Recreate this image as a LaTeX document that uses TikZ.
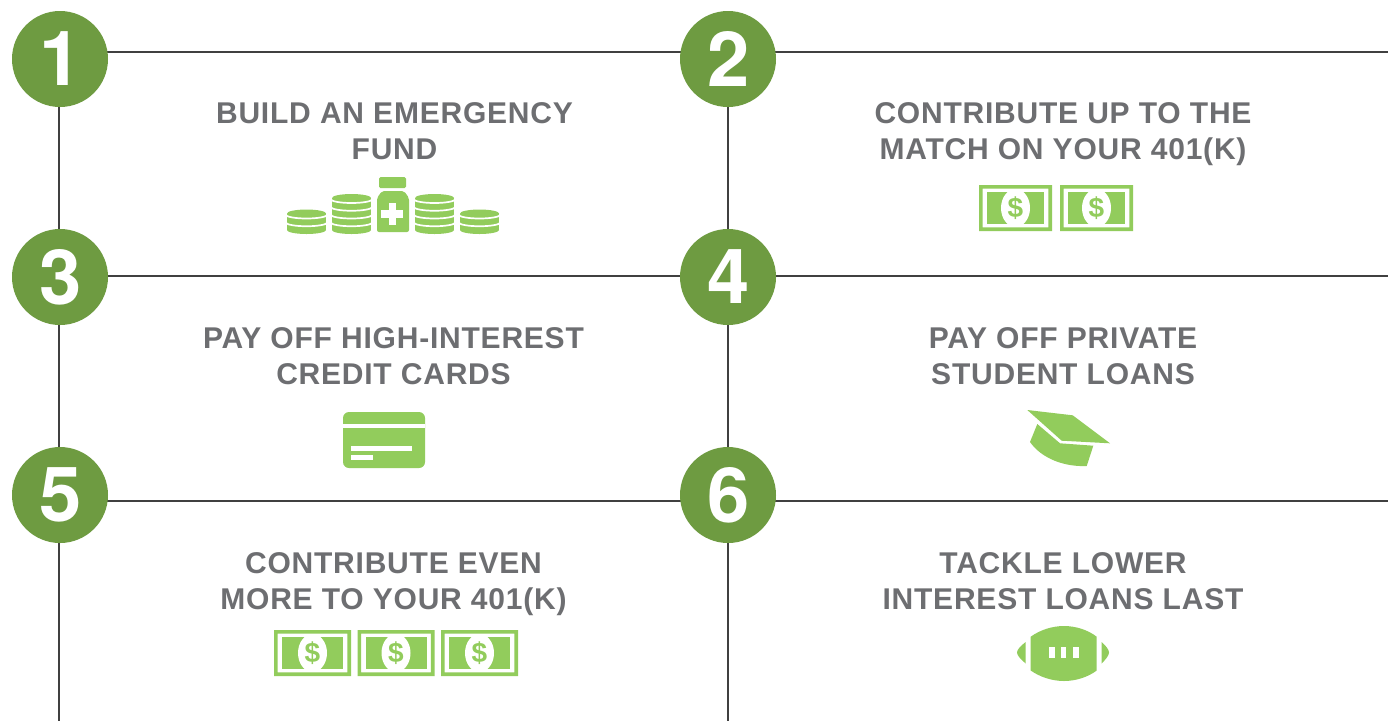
\documentclass[tikz,border=0pt]{standalone}
\usepackage{fontspec}
\setmainfont{Liberation Sans}
\newfontface\labelfont[LetterSpace=2.6]{Liberation Sans Bold}
\newfontface\digitfont{TeX Gyre Heros Bold}
\newfontface\dollarfont{Liberation Sans Bold}
\usetikzlibrary{backgrounds}
\definecolor{circgreen}{RGB}{110,155,65}
\definecolor{icongreen}{RGB}{146,204,92}
\definecolor{txtgrey}{RGB}{109,110,113}
\definecolor{linegrey}{RGB}{64,64,64}
\tikzset{
  numcircle/.style={circle,fill=circgreen,minimum size=96pt,inner sep=0pt,text=white,font=\digitfont\fontsize{76}{76}\selectfont},
  steptext/.style={align=center,text=txtgrey,inner sep=0pt,font=\labelfont\fontsize{30}{36}\selectfont},
  conn/.style={draw=linegrey,line width=2.8pt},
  ico/.style={fill=icongreen,draw=none}
}
\newcommand{\dg}[1]{\raisebox{-2.5pt}{\hspace*{1pt}#1}}
% bill: left, top, width, height
\newcommand{\billicon}[4]{%
  \begin{scope}[shift={(#1,#2)}]
    \fill[icongreen] (8,7.3) rectangle (#3-8,#4-7.3);
    \fill[white] (#3/2,#4/2) ellipse (14.5 and 19);
    \fill[icongreen,even odd rule] (0,0) rectangle (#3,#4) (3.7,3.7) rectangle (#3-3.7,#4-3.7);
    \node[text=icongreen,inner sep=0pt,font=\dollarfont\fontsize{28}{28}\selectfont] at (#3/2,#4/2) {\$};
  \end{scope}}
% coin stack: left, bottom y, layers: a solid silhouette crossed by white curved stripes
\newcommand{\coinstack}[3]{%
  \begin{scope}[shift={(#1,#2)}]
    \pgfmathsetmacro{\stacktop}{-9-(#3-1)*7.75}
    \fill[icongreen] (19.5,\stacktop+4) ellipse (19.5 and 4);
    \fill[icongreen] (19.5,-4) ellipse (19.5 and 4);
    \fill[icongreen] (0,\stacktop+4) rectangle (39,-4);
    \pgfmathtruncatemacro{\stripes}{#3-1}
    \foreach \k in {1,...,\stripes}{
      \pgfmathsetmacro{\cy}{\stacktop+5+(\k-1)*7.75}
      \draw[white,line width=1.7pt] (-1.5,\cy) arc[start angle=180,end angle=0,x radius=21,y radius=4];
    }
  \end{scope}}
\begin{document}
\begin{tikzpicture}[x=1pt,y=-1pt]
\useasboundingbox (0,0) rectangle (1388,721);

\node[numcircle] (n1) at (60,59) {\dg{1}};
\node[numcircle] (n2) at (728,59) {\dg{2}};
\node[numcircle] (n3) at (60,277) {\dg{3}};
\node[numcircle] (n4) at (728,277) {\dg{4}};
\node[numcircle] (n5) at (60,495) {\dg{5}};
\node[numcircle] (n6) at (728,495) {\dg{6}};

\coordinate (h1) at (0,52);
\coordinate (h2) at (0,276);
\coordinate (h3) at (0,501);
\coordinate (endr1) at (1388,52);
\coordinate (endr2) at (1388,276);
\coordinate (endr3) at (1388,501);
\coordinate (endb1) at (59,721);
\coordinate (endb2) at (728,721);

\begin{scope}[on background layer]
\fill[white] (0,0) rectangle (1388,721);
\draw[conn] (n1 |- h1) -- (n2 |- h1);
\draw[conn] (n2 |- h1) -- (endr1);
\draw[conn] (n3 |- h2) -- (n4 |- h2);
\draw[conn] (n4 |- h2) -- (endr2);
\draw[conn] (n5 |- h3) -- (n6 |- h3);
\draw[conn] (n6 |- h3) -- (endr3);
\draw[conn] (endb1 |- n1) -- (endb1 |- n3);
\draw[conn] (endb1 |- n3) -- (endb1 |- n5);
\draw[conn] (endb1 |- n5) -- (endb1);
\draw[conn] (n2) -- (n4);
\draw[conn] (n4) -- (n6);
\draw[conn] (n6) -- (endb2);
\end{scope}

\node[steptext] (t1) at (394.5,134.5) {\strut BUILD AN EMERGENCY\\\strut FUND};
\node[steptext] (t2) at (1063,134.5) {\strut CONTRIBUTE UP TO THE\\\strut MATCH ON YOUR 401(K)};
\node[steptext] (t3) at (393.5,359.5) {\strut PAY OFF HIGH-INTEREST\\\strut CREDIT CARDS};
\node[steptext] (t4) at (1063,359.5) {\strut PAY OFF PRIVATE\\\strut STUDENT LOANS};
\node[steptext] (t5) at (393.5,584.5) {\strut CONTRIBUTE EVEN\\\strut MORE TO YOUR 401(K)};
\node[steptext] (t6) at (1063,584.5) {\strut TACKLE LOWER\\\strut INTEREST LOANS LAST};

% icon 1
\coinstack{287}{234}{3}
\coinstack{332}{234}{5}
\coinstack{415}{234}{5}
\coinstack{460}{234}{3}
\fill[ico,rounded corners=1.5pt] (379,177) rectangle (406,188);
\fill[ico,rounded corners=2pt] (377,232) -- (377,198) -- (382,191) -- (404,191) -- (409,198) -- (409,232) -- cycle;
\fill[white] (381,210) rectangle (403,217.5);
\fill[white] (388.5,202.5) rectangle (396,225);

% icon 2
\billicon{979}{185}{73}{46}
\billicon{1060}{185}{73}{46}

% icon 3
\fill[ico,rounded corners=6pt] (343,412) rectangle (425,468);
\fill[white] (343,424.3) rectangle (425,427.7);
\fill[white] (351,446.3) rectangle (412,451);
\fill[white] (351,455) rectangle (373,459.7);

% icon 4
\fill[ico] (1027.3,410) -- (1072.7,415.3) -- (1110,443.3) -- (1061.7,440.7) -- cycle;
\fill[ico] (1037.3,424) -- (1060,443.3) -- (1093.3,445.7) -- (1086.7,466)
  .. controls (1065,467) and (1042,459) .. (1030,442) -- cycle;

% icon 5
\billicon{274}{630}{77}{46}
\billicon{357.5}{630}{77}{46}
\billicon{441}{630}{77}{46}

% icon 6
\fill[ico] (1030.7,636.7) .. controls (1040,630) and (1052,626) .. (1064,626)
  .. controls (1076,626) and (1088,630) .. (1096.7,636.7) -- (1096.7,670.5)
  .. controls (1088,677) and (1076,681) .. (1064,681)
  .. controls (1052,681) and (1040,677) .. (1030.7,670.5) -- cycle;
\fill[ico] (1025.7,642) .. controls (1021,645.5) and (1017,649.5) .. (1017,652.5) .. controls (1017,655.5) and (1021,659.5) .. (1025.7,663.5) -- cycle;
\fill[ico] (1101.7,642) .. controls (1105.5,645.5) and (1109,649.5) .. (1109,652.5) .. controls (1109,655.5) and (1105.5,659.5) .. (1101.7,663.5) -- cycle;
\fill[white] (1048.7,647.3) rectangle (1054.5,658.3);
\fill[white] (1060.5,647.3) rectangle (1066.3,658.3);
\fill[white] (1072.7,647.3) rectangle (1078.7,658.3);
\end{tikzpicture}
\end{document}
